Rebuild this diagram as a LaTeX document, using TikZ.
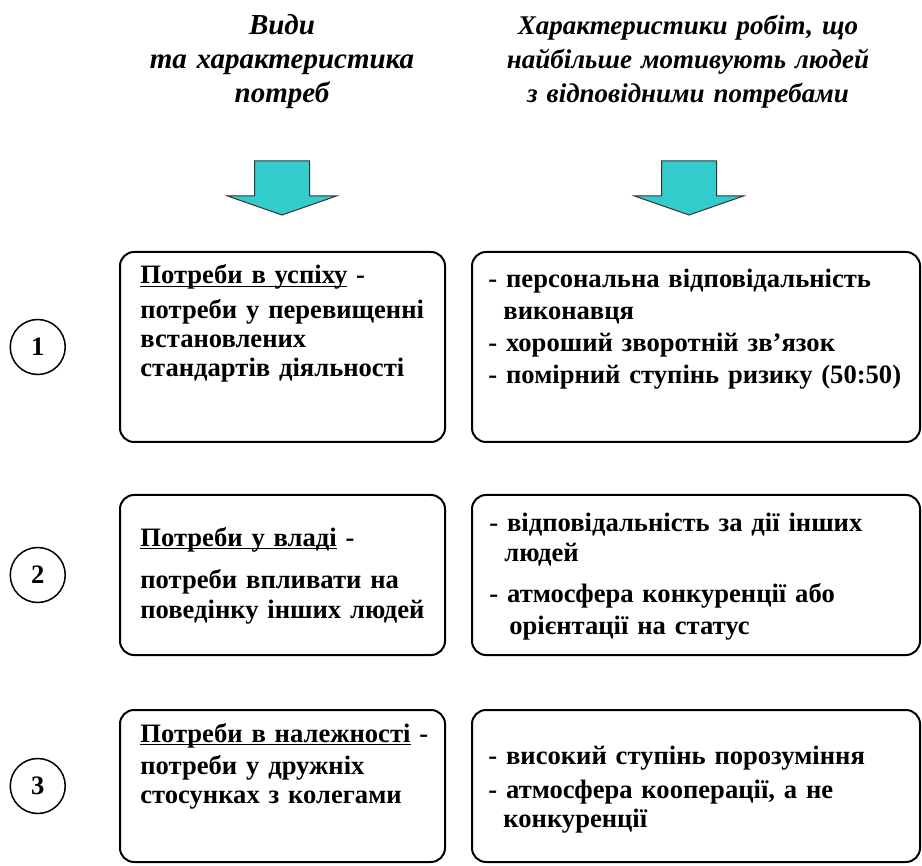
\documentclass[tikz,border=0pt]{standalone}
\usepackage{fontspec}
\setmainfont{Liberation Serif}
\usetikzlibrary{positioning}

\definecolor{arrowfill}{RGB}{51,204,204}
\newcommand{\needtitle}[1]{\underline{\smash{#1}}}

\begin{document}
\begin{tikzpicture}[
      x=0.5pt, y=-0.5pt,
      % Define styles for the elements
      box/.style={
          rectangle,
          draw,
          line width=1pt,
          rounded corners=7pt,
          inner sep=0pt
        },
      leftbox/.style={
          box,
          minimum width=162.5pt
        },
      rightbox/.style={
          box,
          minimum width=224pt
        },
      boxtext/.style={
          anchor=base west,
          inner sep=0pt,
          align=left,
          font=\fontsize{13.3}{14.5}\selectfont\bfseries
        },
      header/.style={
          anchor=base,
          inner sep=0pt,
          align=center,
          text width=220pt,
          font=\fontsize{13.5}{17}\selectfont\bfseries\itshape
        },
      num/.style={
          circle,
          draw,
          line width=0.75pt,
          minimum size=27.5pt,
          inner sep=0pt,
          font=\fontsize{13.3}{14.5}\selectfont\bfseries
        },
      downarrow/.pic={
          \filldraw[fill=arrowfill, draw=black!80, line width=0.5pt]
            (-27.5,0) -- (27.5,0) -- (27.5,35) -- (54.5,35) -- (0,54)
            -- (-54.5,35) -- (-27.5,35) -- cycle;
        }
    ]

    \useasboundingbox (0,0) rectangle (922,866);

    % Column headers
    \node[header, font=\fontsize{14.5}{17}\selectfont\bfseries\itshape] (headneeds) at (282,35) {
      Види\\ та характеристика\\ потреб
    };
    \node[header] (headjobs) at (688,35) {
      Характеристики робіт, що\\ найбільше мотивують людей\\ з відповідними потребами
    };

    \pic at (282,161) {downarrow};
    \pic at (689,161) {downarrow};

    % Place the boxes
    \node[leftbox, minimum height=95pt] (need1) at (282.5,347) {};
    \node[rightbox, minimum height=95pt] (job1) at (696,347) {};
    \node[leftbox, minimum height=80pt] (need2) at (282.5,575) {};
    \node[rightbox, minimum height=80pt] (job2) at (696,575) {};
    \node[leftbox, minimum height=76pt] (need3) at (282.5,786) {};
    \node[rightbox, minimum height=76pt] (job3) at (696,786) {};

    % Numbers in circles
    \node[num, left=26.5pt of need1] (num1) {1};
    \node[num, left=26.5pt of need2] (num2) {2};
    \node[num, left=26.5pt of need3] (num3) {3};

    % Texts in the boxes
    \node[boxtext, text width=155pt] (need1text) at (140,284) {
      \needtitle{Потреби в успіху} -\\[3pt]
      потреби у перевищенні\\
      встановлених\\
      стандартів діяльності
    };
    \node[boxtext, text width=215pt] (job1text) at (488,288) {
      - персональна відповідальність\\[1.5pt]
      \hspace*{7.5pt}виконавця\\[1.5pt]
      - хороший зворотній зв’язок\\[1.5pt]
      - помірний ступінь ризику (50:50)
    };
    \node[boxtext, text width=155pt] (need2text) at (140,546) {
      \needtitle{Потреби у владі} -\\[6.5pt]
      потреби впливати на\\[0.5pt]
      поведінку інших людей
    };
    \node[boxtext, text width=215pt] (job2text) at (489,531) {
      - відповідальність за дії інших\\[0.5pt]
      \hspace*{7.5pt}людей\\[6.5pt]
      - атмосфера конкуренції або\\[1pt]
      \hspace*{10pt}орієнтації на статус
    };
    \node[boxtext, text width=155pt] (need3text) at (140,742) {
      \needtitle{Потреби в належності} -\\[1.5pt]
      потреби у дружніх\\
      стосунках з колегами
    };
    \node[boxtext, text width=215pt] (job3text) at (488,764) {
      - високий ступінь порозуміння\\[2.5pt]
      - атмосфера кооперації, а не\\
      \hspace*{7.5pt}конкуренції
    };

  \end{tikzpicture}
\end{document}
